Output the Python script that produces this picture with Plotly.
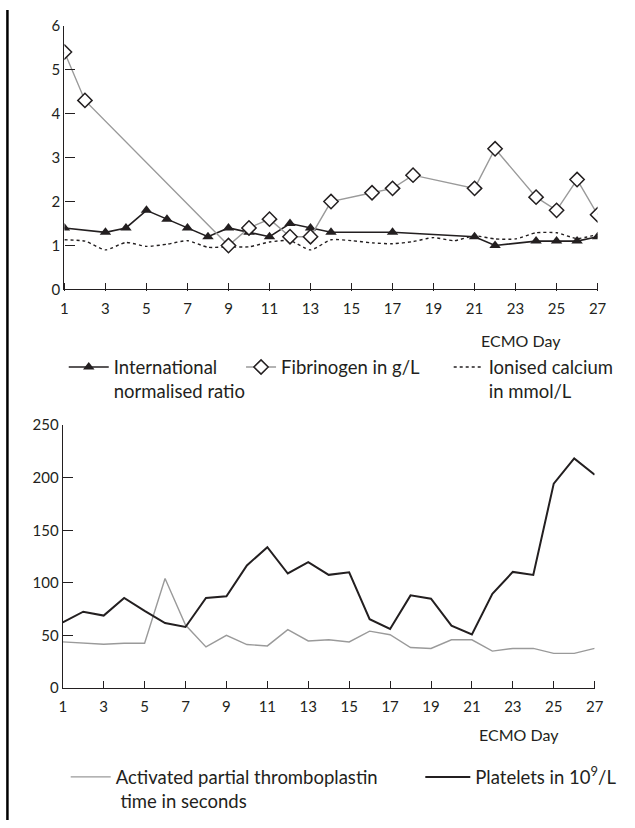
import plotly.graph_objects as go

# ---------------- data ----------------
days = list(range(1, 28))
tick_days = list(range(1, 28, 2))
tick_labels = [str(d) for d in tick_days]

inr = [1.4, None, 1.3, 1.4, 1.8, 1.6, 1.4, 1.2, 1.4, 1.3, 1.2, 1.5, 1.4, 1.3,
       None, None, 1.3, None, None, None, 1.2, 1.0, None, 1.1, 1.1, 1.1, 1.2]
fibrinogen = [5.4, 4.3, None, None, None, None, None, None, 1.0, 1.4, 1.6, 1.2, 1.2, 2.0,
              None, 2.2, 2.3, 2.6, None, None, 2.3, 3.2, None, 2.1, 1.8, 2.5, 1.7]
calcium = [1.13, 1.10, 0.90, 1.07, 0.98, 1.03, 1.11, 0.96, 0.97, 0.97, 1.08, 1.11, 0.90, 1.13,
           1.11, 1.06, 1.04, 1.09, 1.18, 1.11, 1.22, 1.15, 1.15, 1.29, 1.29, 1.16, 1.25]
aptt = [44, 42.7, 41.8, 42.7, 42.7, 104.3, 60, 39.3, 50.2, 41.5, 40.2, 55.7, 44.9, 46,
        44, 54.2, 50.8, 38.7, 37.8, 46, 46, 35.3, 37.8, 37.8, 33.1, 33.1, 37.8]
platelets = [62.5, 72.7, 69, 85.7, 73.4, 61.9, 58.2, 85.7, 87.3, 116.7, 134, 109, 119.8, 107.7,
             110.2, 65.6, 56.3, 88.2, 85.1, 59.4, 51.1, 89.7, 110.5, 107.7, 194.4, 218.3, 202.8]
y1_ticks = [0, 1, 2, 3, 4, 5, 6]
y2_ticks = [0, 50, 100, 150, 200, 250]

names_top = ["International<br>normalised ratio", "Fibrinogen in g/L", "Ionised calcium<br>in mmol/L"]
names_bottom = ["Activated partial thromboplastin<br>\u00a0time in seconds", "Platelets in 10<sup>9</sup>/L"]
x_title = "ECMO Day"

# ---------------- figure ----------------
W, H = 635, 828
FONT = "Lato, 'Open Sans', sans-serif"
INK = "#231f20"
GREY = "#9a9a9a"
LEG_SIZE = 18.5
TICK_LEN = 8

TOP_BOTTOM = 1 - 285.7 / H      # paper y of the top panel's x axis
BOT_BOTTOM = 1 - 693.3 / H      # paper y of the bottom panel's x axis

fig = go.Figure()

# top panel
fig.add_trace(go.Scatter(x=days, y=calcium, name=names_top[2], mode="lines",
                         line=dict(color=INK, width=1.4, dash="dot", shape="spline", smoothing=0.6),
                         connectgaps=True, legend="legend3", showlegend=True,
                         xaxis="x", yaxis="y"))
fig.add_trace(go.Scatter(x=days, y=inr, name=names_top[0], mode="lines+markers",
                         line=dict(color=INK, width=1.6),
                         marker=dict(symbol="triangle-up", size=10, color=INK),
                         connectgaps=True, legend="legend", showlegend=True,
                         xaxis="x", yaxis="y"))
fig.add_trace(go.Scatter(x=days, y=fibrinogen, name=names_top[1], mode="lines+markers",
                         line=dict(color=GREY, width=1.4),
                         marker=dict(symbol="diamond", size=11, color="white",
                                     line=dict(color=INK, width=1.5)),
                         connectgaps=True, legend="legend2", showlegend=True,
                         xaxis="x3", yaxis="y"))

# bottom panel
fig.add_trace(go.Scatter(x=days, y=aptt, name=names_bottom[0], mode="lines",
                         line=dict(color=GREY, width=1.4),
                         legend="legend4", showlegend=True,
                         xaxis="x2", yaxis="y2"))
fig.add_trace(go.Scatter(x=days, y=platelets, name=names_bottom[1], mode="lines",
                         line=dict(color=INK, width=2),
                         legend="legend5", showlegend=True,
                         xaxis="x4", yaxis="y2"))

tickfont = dict(family=FONT, size=15, color=INK)
# y axes: line + inside ticks
y_axis = dict(showgrid=False, zeroline=False, showline=True, linecolor=INK, linewidth=1.3,
              ticks="inside", tickcolor=INK, tickwidth=1.3, ticklen=10, tickfont=tickfont,
              tickmode="array", ticksuffix="\u00a0\u00a0\u00a0")
# main x axes: line + tick labels (pushed down by short invisible outside ticks)
x_axis = dict(showgrid=False, zeroline=False, showline=True, linecolor=INK, linewidth=1.3,
              range=[1, 27], ticks="outside", ticklen=5, tickcolor="rgba(0,0,0,0)",
              tickmode="array", tickvals=tick_days, ticktext=tick_labels, tickfont=tickfont)
# overlaid x axes raised by one tick length: their outside ticks reach down to the axis line
tick_axis = dict(showgrid=False, zeroline=False, showline=False, range=[1, 27],
                 ticks="outside", ticklen=TICK_LEN, tickcolor=INK, tickwidth=1.3,
                 tickmode="array", tickvals=tick_days, showticklabels=False)


def leg(x_px, y_px, iw=30):
    return dict(orientation="h", x=x_px / W, y=1 - y_px / H, xanchor="left", yanchor="top",
                valign="top", bgcolor="rgba(0,0,0,0)", borderwidth=0, itemwidth=iw,
                font=dict(family=FONT, size=LEG_SIZE, color=INK))


fig.update_layout(
    width=W, height=H,
    showlegend=True,
    margin=dict(l=0, r=0, t=0, b=0),
    paper_bgcolor="white", plot_bgcolor="white",
    font=dict(family=FONT, color=INK),
    xaxis=dict(domain=[61.7 / W, 606 / W], anchor="y", **x_axis),
    xaxis3=dict(overlaying="x", anchor="free", position=TOP_BOTTOM + TICK_LEN / H, **tick_axis),
    yaxis=dict(domain=[TOP_BOTTOM, 1 - 16 / H], anchor="x", range=[0, 6],
               tickvals=y1_ticks, **y_axis),
    xaxis2=dict(domain=[60 / W, 603 / W], anchor="y2", **x_axis),
    xaxis4=dict(overlaying="x2", anchor="free", position=BOT_BOTTOM + TICK_LEN / H, **tick_axis),
    yaxis2=dict(domain=[BOT_BOTTOM, 1 - 424.3 / H], anchor="x2", range=[0, 250],
                tickvals=y2_ticks, **y_axis),
    legend=leg(61, 346, iw=40),
    legend2=leg(242, 346),
    legend3=leg(454, 346),
    legend4=leg(63, 765, iw=40),
    legend5=leg(425, 765, iw=45),
    annotations=[
        dict(text=x_title, xref="paper", yref="paper", x=528 / W, y=1 - 338 / H,
             xanchor="center", yanchor="middle", showarrow=False,
             font=dict(family=FONT, size=16, color=INK)),
        dict(text=x_title, xref="paper", yref="paper", x=526 / W, y=1 - 741 / H,
             xanchor="center", yanchor="middle", showarrow=False,
             font=dict(family=FONT, size=16, color=INK)),
    ],
    shapes=[
        dict(type="line", xref="paper", yref="paper", x0=3.5 / W, x1=3.5 / W, y0=0, y1=1,
             line=dict(color="black", width=2.5)),
    ],
)

fig.write_html("out.html", config={"displayModeBar": False},
               post_script="document.body.style.margin='0';document.body.style.overflow='hidden';")
